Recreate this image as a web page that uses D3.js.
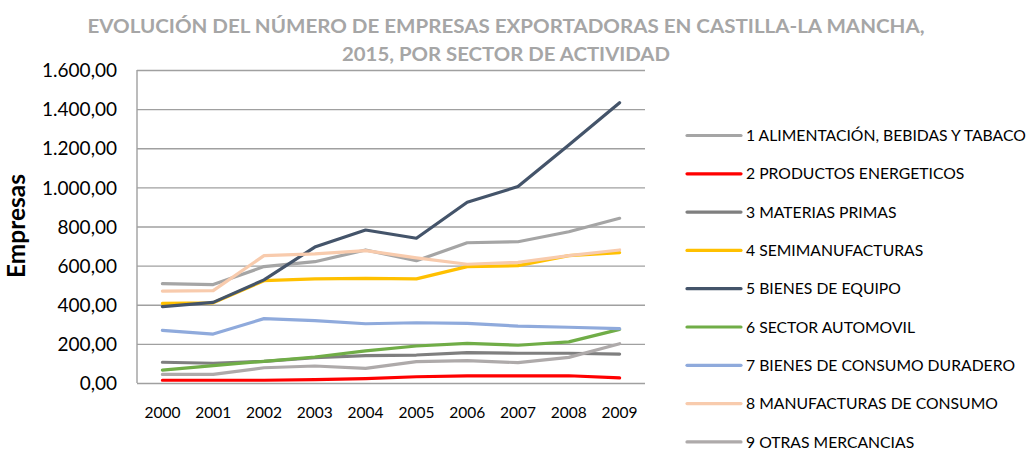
<!DOCTYPE html>
<html><head><meta charset="utf-8">
<script src="https://cdn.jsdelivr.net/npm/d3@7"></script>
<style>
html,body{margin:0;padding:0;background:#fff;}
svg{display:block;font-family:Lato,"Open Sans",sans-serif;}
</style></head>
<body><svg id="c" width="1035" height="450"></svg>
<script>
const years = ["2000","2001","2002","2003","2004","2005","2006","2007","2008","2009"];
const seriesNames = [
  "1 ALIMENTACIÓN, BEBIDAS Y TABACO",
  "2 PRODUCTOS ENERGETICOS",
  "3 MATERIAS PRIMAS",
  "4 SEMIMANUFACTURAS",
  "5 BIENES DE EQUIPO",
  "6 SECTOR AUTOMOVIL",
  "7 BIENES DE CONSUMO DURADERO",
  "8 MANUFACTURAS DE CONSUMO",
  "9 OTRAS MERCANCIAS"
];
const alimentacion = [508, 503, 595, 620, 680, 625, 717, 722, 773, 842];
const energeticos  = [14, 14, 14, 17, 22, 32, 36, 36, 37, 26];
const materias     = [106, 101, 111, 129, 140, 143, 155, 152, 152, 148];
const semimanuf    = [407, 410, 523, 532, 535, 532, 595, 600, 651, 666];
const equipo       = [390, 412, 527, 695, 782, 740, 924, 1004, 1217, 1433];
const automovil    = [66, 89, 111, 133, 164, 189, 203, 193, 210, 274];
const duradero     = [269, 250, 329, 319, 303, 308, 305, 291, 285, 278];
const manufConsumo = [470, 472, 651, 660, 677, 640, 607, 617, 651, 680];
const otras        = [44, 44, 78, 87, 75, 109, 114, 104, 131, 201];
const yTicks = [0, 200, 400, 600, 800, 1000, 1200, 1400, 1600];
const titleLines = ["EVOLUCIÓN DEL NÚMERO DE EMPRESAS EXPORTADORAS EN CASTILLA-LA MANCHA,", "2015, POR SECTOR DE ACTIVIDAD"];
const yTitle = "Empresas";
const colors = ["#A5A5A5","#FF0000","#7F7F7F","#FFC000","#44546A","#70AD47","#8FAADC","#F8CBAD","#AEAAAA"];

const seriesValues = [alimentacion, energeticos, materias, semimanuf, equipo, automovil, duradero, manufConsumo, otras];
const series = seriesNames.map((n,i)=>({name:n, values:seriesValues[i], color:colors[i]}));

const svg = d3.select("#c");
const L = 137, R = 645, T = 70, B = 383;
const x = d3.scaleBand().domain(years).range([L, R]).padding(0);
const y = d3.scaleLinear().domain([0, 1600]).range([B, T]);
const loc = d3.formatLocale({decimal:",", thousands:".", grouping:[3], currency:["","€"]});
const fmt = loc.format(",.2f");

function fit(sel, w){
  sel.each(function(){
    const cur = parseFloat(this.getAttribute("font-size"));
    const len = this.getComputedTextLength();
    this.setAttribute("font-size", (cur*w/len).toFixed(2));
  });
}

// gridlines
const yAxis = d3.axisLeft(y).tickValues(yTicks).tickSize(-(R-L)).tickFormat(fmt).tickPadding(20);
const gy = svg.append("g").attr("transform",`translate(${L},0)`).call(yAxis);
gy.select(".domain").remove();
gy.selectAll(".tick line").attr("stroke","#A0A0A0").attr("stroke-width",1.4);
gy.selectAll(".tick text").attr("font-size",19).attr("fill","#000").attr("font-family","Lato").attr("dy","0.35em").attr("x",-20);
svg.append("line").attr("x1",L).attr("x2",L).attr("y1",T).attr("y2",B).attr("stroke","#A0A0A0").attr("stroke-width",1.4);

const xAxis = d3.axisBottom(x).tickSize(0).tickPadding(24);
const gx = svg.append("g").attr("transform",`translate(0,${B})`).call(xAxis);
gx.select(".domain").remove();
gx.selectAll(".tick text").attr("font-size",15.5).attr("fill","#000").attr("font-family","Lato");

// lines
const line = d3.line().x((d,i)=>x(years[i])+x.bandwidth()/2).y(d=>y(d));
svg.append("g").selectAll("path").data(series).join("path")
  .attr("d",d=>line(d.values)).attr("fill","none").attr("stroke",d=>d.color)
  .attr("stroke-width",3.2).attr("stroke-linejoin","round").attr("stroke-linecap","round");

// legend
const lg = svg.append("g");
const items = lg.selectAll("g").data(series).join("g").attr("transform",(d,i)=>`translate(687,${135.5+i*38.3})`);
items.append("line").attr("x1",0).attr("x2",54).attr("stroke",d=>d.color).attr("stroke-width",3.2).attr("stroke-linecap","round");
const lt = items.append("text").attr("x",59).attr("dy","0.36em").attr("font-size",15).attr("fill","#000").text(d=>d.name);
{
  const first = lt.node(); const len = first.getComputedTextLength();
  const fs = 15*280/len; lt.attr("font-size",fs.toFixed(2));
}

// title
svg.append("g").selectAll("text").data(titleLines).join("text")
  .attr("x",506).attr("y",(d,i)=>33+i*28).attr("text-anchor","middle")
  .attr("font-size",19).attr("font-weight","bold").attr("fill","#A6A6A6")
  .attr("textLength",(d,i)=>i===0?837:328).attr("lengthAdjust","spacingAndGlyphs")
  .text(d=>d);

// y title
svg.append("text").attr("transform","translate(25,226) rotate(-90)").attr("text-anchor","middle")
  .attr("font-size",21).attr("font-weight","bold").attr("fill","#000").text(yTitle)
  .call(s=>fit(s,104));
</script></body></html>
